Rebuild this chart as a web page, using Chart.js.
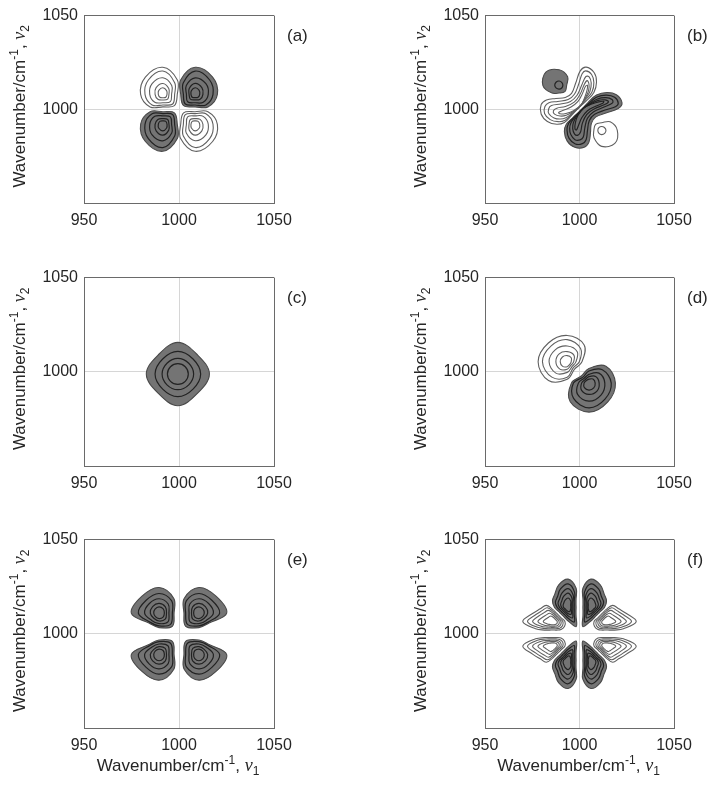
<!DOCTYPE html>
<html>
<head>
<meta charset="utf-8">
<script src="https://cdn.jsdelivr.net/npm/chart.js@4.4.1/dist/chart.umd.min.js"></script>
<style>
  html, body { margin: 0; padding: 0; background: #fff; }
  #figura { position: relative; width: 713px; height: 785px; }
  #figura canvas { position: absolute; }
</style>
</head>
<body>
<div id="figura">
  <canvas id="painel-a" width="356" height="262" style="left:0;top:0"></canvas>
  <canvas id="painel-b" width="357" height="262" style="left:356px;top:0"></canvas>
  <canvas id="painel-c" width="356" height="262" style="left:0;top:262px"></canvas>
  <canvas id="painel-d" width="357" height="262" style="left:356px;top:262px"></canvas>
  <canvas id="painel-e" width="356" height="261" style="left:0;top:524px"></canvas>
  <canvas id="painel-f" width="357" height="261" style="left:356px;top:524px"></canvas>
</div>
<script>
// Eixos (cm-1)
const limites = [950, 1050];
const ticksX = [950, 1000, 1050];
const ticksY = [1000, 1050];
const rotulos = ['(a)', '(b)', '(c)', '(d)', '(e)', '(f)'];

// Formas dos lóbulos: um anel (curva de nível) por linha.
// Números simples = raios a partir do pico, direções igualmente espaçadas
// começando no leste, sentido anti-horário. Pares = vértices [dx, dy].
const formaA = [
  [11.7, 13.0, 14.4, 10.8, 7.6, 8.6, 6.7, 9.5],
  [9.4, 10.8, 12.4, 8.8, 6.2, 7.3, 5.7, 8.0],
  [6.9, 8.0, 8.8, 6.6, 4.6, 5.6, 4.5, 6.0],
  [4.1, 5.0, 5.8, 4.4, 3.2, 3.6, 3.0, 3.7],
  [2.4, 3.0, 3.5, 2.8, 2.2, 2.2, 1.8, 2.2],
];
const formaB1 = [
  [4.0, 6.4, 8.3, 9.9, 8.6, 5.7, 4.1, 4.5],
  [2.0, 2.1, 2.3, 2.3, 2.3, 2.1, 2.0, 2.0],
];
const formaB2 = [
  [[0.6, -0.6], [4.5, 3.6], [9.0, 7.6], [14.5, 9.0], [19.5, 7.8], [22.5, 3.5], [20.5, 0.4], [14.0, -2.0],
   [8.5, -4.2], [6.3, -7.5], [5.8, -12.5], [5.0, -17.5], [2.5, -20.3], [-2.5, -20.3], [-6.5, -17.0],
   [-8.0, -12.0], [-7.0, -8.0], [-3.5, -4.4]],
  [[1.2, -0.2], [5.0, 3.2], [9.2, 6.6], [14.3, 7.6], [18.6, 6.4], [20.5, 3.3], [19.0, 1.4], [13.5, -0.4],
   [8.0, -2.7], [5.2, -6.0], [4.2, -11.5], [3.5, -16.2], [1.5, -18.3], [-2.2, -18.5], [-5.5, -15.5],
   [-6.6, -11.2], [-5.8, -7.6], [-2.8, -4.3]],
  [[1.6, 0.3], [5.5, 3.0], [9.5, 5.5], [14.0, 6.2], [17.2, 5.2], [17.5, 3.4], [13.0, 1.2], [7.5, -1.3],
   [4.2, -4.8], [2.8, -10.0], [2.0, -14.8], [0.3, -16.3], [-2.4, -16.2], [-4.6, -13.5], [-5.2, -10.2],
   [-4.5, -7.2], [-2.0, -3.8]],
  [[2.0, 0.6], [6.0, 3.0], [10.0, 4.8], [13.5, 5.0], [15.3, 4.0], [13.0, 2.4], [8.0, 0.3], [3.8, -2.8],
   [1.5, -7.5], [0.6, -12.0], [-0.8, -13.8], [-2.6, -13.2], [-3.6, -10.3], [-3.2, -7.0], [-1.2, -3.3]],
  [[2.6, 1.0], [6.5, 2.8], [10.2, 4.0], [12.8, 4.2], [12.3, 3.2], [8.5, 1.6], [4.2, -0.8], [1.2, -4.5],
   [-0.5, -8.5], [-1.6, -11.0], [-2.4, -10.5], [-2.2, -7.2], [-0.8, -3.2]],
];
const formaC = [
  [16.6, 14.5, 16.8, 14.5, 16.6, 14.5, 16.8, 14.5],
  [12.0, 11.3, 12.0, 11.3, 12.0, 11.3, 12.0, 11.3],
  [8.3, 8.1, 8.3, 8.1, 8.3, 8.1, 8.3, 8.1],
  [5.5, 5.5, 5.5, 5.5, 5.5, 5.5, 5.5, 5.5],
];
const formaD = [
  [14.0, 12.7, 7.8, 5.5, 9.3, 14.0, 15.4, 14.1],
  [11.8, 10.0, 6.4, 4.5, 8.2, 11.5, 13.1, 12.0],
  [8.4, 7.5, 4.6, 3.6, 5.6, 8.5, 9.6, 9.0],
  [5.4, 5.0, 3.4, 2.7, 3.9, 5.5, 6.0, 6.0],
  [3.3, 3.0, 2.1, 1.9, 2.6, 3.4, 3.7, 3.6],
];
const formaE = [
  [14.6, 12.7, 13.6, 11.0, 7.9, 9.9, 7.7, 7.5],
  [10.9, 9.6, 10.4, 9.3, 7.0, 8.5, 6.8, 6.8],
  [7.6, 7.2, 7.6, 6.8, 5.2, 6.6, 5.6, 5.5],
  [4.6, 4.8, 5.1, 4.7, 3.9, 4.6, 4.2, 3.9],
  [2.8, 3.0, 3.3, 3.1, 2.8, 3.0, 2.9, 2.7],
];
const formaF1 = [
  [7.2, 9.0, 10.0, 13.0, 15.0, 11.0, 5.9, 4.5, 4.2, 4.5, 5.9, 11.0, 7.2, 5.5, 5.1, 5.5],
  [5.8, 7.3, 8.0, 10.6, 12.5, 8.8, 4.5, 3.5, 3.2, 3.5, 4.5, 8.4, 5.8, 4.4, 4.1, 4.4],
  [4.6, 5.8, 6.4, 8.4, 10.0, 7.0, 3.5, 2.7, 2.5, 2.7, 3.4, 6.0, 4.5, 3.4, 3.2, 3.4],
  [3.5, 4.3, 4.8, 6.3, 7.6, 5.3, 2.7, 2.1, 1.9, 2.1, 2.5, 4.0, 3.3, 2.6, 2.4, 2.6],
  [2.4, 2.9, 3.3, 4.2, 5.0, 3.6, 1.9, 1.5, 1.4, 1.5, 1.7, 2.3, 2.2, 1.8, 1.7, 1.8],
];
const formaF2 = [
  [16.0, 11.5, 9.55, 9.3, 6.3, 4.8, 4.45, 4.8, 6.3, 6.6, 6.0, 4.9, 4.5, 4.9, 6.4, 10.0],
  [13.5, 9.8, 8.2, 7.9, 5.4, 4.0, 3.7, 4.0, 5.2, 5.5, 5.0, 4.1, 3.8, 4.1, 5.3, 8.4],
  [10.8, 8.0, 6.7, 6.4, 4.4, 3.3, 3.0, 3.3, 4.2, 4.4, 4.0, 3.3, 3.1, 3.3, 4.2, 6.7],
  [8.0, 6.0, 5.0, 4.8, 3.4, 2.6, 2.4, 2.6, 3.2, 3.4, 3.1, 2.6, 2.4, 2.6, 3.2, 5.0],
  [5.2, 3.9, 3.3, 3.2, 2.3, 1.8, 1.7, 1.8, 2.2, 2.3, 2.1, 1.8, 1.7, 1.8, 2.2, 3.3],
];
const formas = { A: formaA, B1: formaB1, B2: formaB2, C: formaC, D: formaD, E: formaE, F1: formaF1, F2: formaF2 };

// Lóbulos de cada painel: forma, pico x, pico y, espelho x, espelho y, troca x<->y, sinal
const lobosA = [
  ['A', 1008.5, 1008, 1, 1, 0, 1],
  ['A', 991.5, 1008, -1, 1, 0, -1],
  ['A', 991.5, 992, -1, -1, 0, 1],
  ['A', 1008.5, 992, 1, -1, 0, -1],
];
const lobosB = [
  ['B1', 989.2, 1012.8, 1, 1, 0, 1],
  ['B1', 1011.7, 988.8, 1, 1, 1, -1],
  ['B2', 1000, 1000, 1, 1, 0, 1],
  ['B2', 1000, 1000, 1, 1, 1, -1],
];
const lobosC = [
  ['C', 999.4, 998.8, 1, 1, 0, 1],
];
const lobosD = [
  ['D', 1005, 994, 1, 1, 0, 1],
  ['D', 993.5, 1005.3, 1, 1, 1, -1],
];
const lobosE = [
  ['E', 1010.5, 1011, 1, 1, 0, 1],
  ['E', 989.5, 1011, -1, 1, 0, 1],
  ['E', 989.5, 989, -1, -1, 0, 1],
  ['E', 1010.5, 989, 1, -1, 0, 1],
];
const lobosF = [
  ['F1', 1006, 1014, 1, 1, 0, 1],
  ['F1', 994, 1014, -1, 1, 0, 1],
  ['F1', 994, 986, -1, -1, 0, 1],
  ['F1', 1006, 986, 1, -1, 0, 1],
  ['F2', 1014, 1006.5, 1, 1, 0, -1],
  ['F2', 986, 1006.5, -1, 1, 0, -1],
  ['F2', 986, 993.5, -1, -1, 0, -1],
  ['F2', 1014, 993.5, 1, -1, 0, -1],
];

// Títulos dos eixos (texto, estilo)
const tituloY = [['Wavenumber/cm', ''], ['-1', 'sup'], [', ', ''], ['\u03bd', 'it'], ['2', 'sub']];
const tituloX = [['Wavenumber/cm', ''], ['-1', 'sup'], [', ', ''], ['\u03bd', 'it'], ['1', 'sub']];

// Estilo
const familia = "'Liberation Sans', Arial, Helvetica, sans-serif";
const corTexto = '#262626';
const corMoldura = '#6a6a6a';
const corGrade = '#d6d6d6';
const corPreench = '#747474';
const corBordaPos = '#4a4a4a';
const corLinhaPos = '#222222';
const corLinhaNeg = '#606060';

// Converte um anel da forma em pontos (x, y) do gráfico
function pontosAnel(anel, cx, cy, ex, ey, troca) {
  return anel.map((v, i) => {
    let dx, dy;
    if (Array.isArray(v)) {
      dx = v[0];
      dy = v[1];
    } else {
      const ang = (2 * Math.PI * i) / anel.length;
      dx = v * Math.cos(ang);
      dy = v * Math.sin(ang);
    }
    if (troca) [dx, dy] = [dy, dx];
    return { x: cx + dx * ex, y: cy + dy * ey };
  });
}

function criarConjuntos(lobos) {
  const lista = [];
  lobos.forEach(([nome, cx, cy, ex, ey, troca, sinal]) => {
    formas[nome].forEach((anel, k) => {
      const positivo = sinal > 0;
      const externo = k === 0;
      lista.push({
        data: pontosAnel(anel, cx, cy, ex, ey, troca),
        borderColor: positivo ? (externo ? corBordaPos : corLinhaPos) : corLinhaNeg,
        borderWidth: positivo && !externo ? 1.2 : 1.1,
        backgroundColor: corPreench,
        fill: positivo && externo ? 'shape' : false,
        tension: 0.38,
        pointRadius: 0,
        order: externo ? 1 : 0,
      });
    });
  });
  return lista;
}

// Fecha cada curva de nível (o último ponto liga-se ao primeiro, suavizado)
const fechaContornos = {
  id: 'fechaContornos',
  afterDatasetsUpdate(chart) {
    chart.getSortedVisibleDatasetMetas().forEach((meta) => {
      const linha = meta.dataset;
      if (!linha) return;
      linha._loop = true;
      linha._fullLoop = true;
      linha._pointsUpdated = false;
      linha._segments = undefined;
      linha._path = undefined;
    });
  },
};

// Texto com sobrescrito / subscrito
function escreveRico(ctx, partes, x, y, rotacao) {
  const fonte = (estilo) => {
    if (estilo === 'sup' || estilo === 'sub') return `12px ${familia}`;
    if (estilo === 'it') return "italic 18px 'Liberation Serif', 'DejaVu Serif', serif";
    return `17px ${familia}`;
  };
  ctx.save();
  ctx.translate(x, y);
  ctx.rotate(rotacao);
  ctx.fillStyle = corTexto;
  ctx.textBaseline = 'alphabetic';
  ctx.textAlign = 'left';
  let total = 0;
  partes.forEach(([t, e]) => {
    ctx.font = fonte(e);
    total += ctx.measureText(t).width;
  });
  let pos = -total / 2;
  partes.forEach(([t, e]) => {
    ctx.font = fonte(e);
    const dy = e === 'sup' ? -7 : e === 'sub' ? 4 : 0;
    ctx.fillText(t, pos, dy);
    pos += ctx.measureText(t).width;
  });
  ctx.restore();
}

const textos = {
  id: 'textos',
  afterDraw(chart, args, opts) {
    const ctx = chart.ctx;
    const area = chart.chartArea;
    escreveRico(ctx, tituloY, area.left - 59, (area.top + area.bottom) / 2 - 3, -Math.PI / 2);
    if (opts.comTituloX) {
      escreveRico(ctx, tituloX, (area.left + area.right) / 2 - 1, area.bottom + 43, 0);
    }
    ctx.save();
    ctx.font = `17px ${familia}`;
    ctx.fillStyle = corTexto;
    ctx.textBaseline = 'middle';
    ctx.textAlign = 'left';
    ctx.fillText(opts.rotulo, area.right + 13, area.top + 21);
    ctx.restore();
  },
};

function corDaGrade(valor) {
  return valor === 1000 ? corGrade : corMoldura;
}

function criarPainel(id, lobos, indice, coluna, linhaFinal) {
  const canvas = document.getElementById(id);
  const largura = canvas.width;
  const altura = canvas.height;
  const esquerda = coluna === 0 ? 84 : 129;
  const direita = coluna === 0 ? 274 : 318;
  const baixo = indice < 2 ? 203 : 204;

  new Chart(canvas, {
    type: 'line',
    data: { datasets: criarConjuntos(lobos) },
    options: {
      responsive: false,
      animation: false,
      events: [],
      devicePixelRatio: 1,
      layout: { padding: { left: 0, right: largura - direita, top: 15, bottom: 0 } },
      scales: {
        x: {
          type: 'linear',
          min: limites[0],
          max: limites[1],
          afterBuildTicks: (s) => { s.ticks = ticksX.map((v) => ({ value: v })); },
          afterFit: (s) => { s.height = altura - baixo; },
          ticks: {
            callback: (v) => String(v),
            font: { family: familia, size: 16 },
            color: corTexto,
            padding: 8,
            maxRotation: 0,
            autoSkip: false,
          },
          grid: { drawTicks: false, color: (c) => corDaGrade(c.tick.value), lineWidth: 1 },
          border: { color: corMoldura, width: 1 },
        },
        y: {
          type: 'linear',
          min: limites[0],
          max: limites[1],
          afterBuildTicks: (s) => { s.ticks = ticksY.map((v) => ({ value: v })); },
          afterFit: (s) => { s.width = esquerda; },
          ticks: {
            callback: (v) => String(v),
            font: { family: familia, size: 16 },
            color: corTexto,
            padding: 6,
            autoSkip: false,
          },
          grid: { drawTicks: false, color: (c) => corDaGrade(c.tick.value), lineWidth: 1 },
          border: { color: corMoldura, width: 1 },
        },
      },
      plugins: {
        legend: { display: false },
        tooltip: { enabled: false },
        textos: { rotulo: rotulos[indice], comTituloX: linhaFinal },
      },
    },
    plugins: [fechaContornos, textos],
  });
}

criarPainel('painel-a', lobosA, 0, 0, false);
criarPainel('painel-b', lobosB, 1, 1, false);
criarPainel('painel-c', lobosC, 2, 0, false);
criarPainel('painel-d', lobosD, 3, 1, false);
criarPainel('painel-e', lobosE, 4, 0, true);
criarPainel('painel-f', lobosF, 5, 1, true);
</script>
</body>
</html>
